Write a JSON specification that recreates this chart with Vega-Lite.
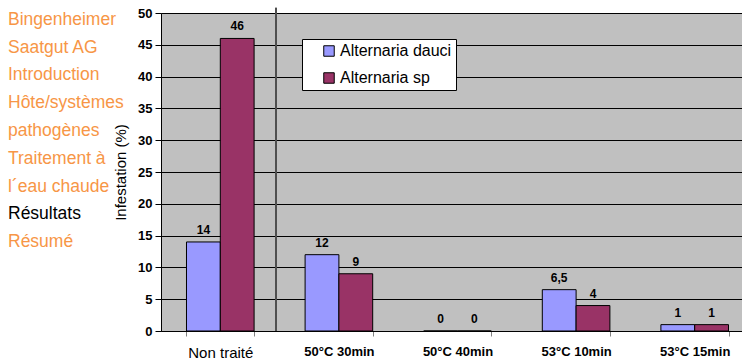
{
  "$schema": "https://vega.github.io/schema/vega-lite/v6.json",
  "padding": {"left": 8, "top": 6, "right": 0, "bottom": 0},
  "bounds": "flush",
  "spacing": 53,
  "background": "white",
  "resolve": {"scale": {"x": "independent", "y": "independent", "color": "independent"}, "axis": {"x": "independent", "y": "independent"}, "legend": {"color": "independent"}},
  "config": {
    "font": "Liberation Sans",
    "locale": {"number": {"decimal": ",", "thousands": ".", "grouping": [3], "currency": ["", " €"]}},
    "view": {"stroke": null}
  },
  "hconcat": [
    {
      "width": 100,
      "height": 236,
      "data": {"values": [
        {"line": "Bingenheimer", "item": "Bingenheimer Saatgut AG", "active": "no"},
        {"line": "Saatgut AG", "item": "Bingenheimer Saatgut AG", "active": "no"},
        {"line": "Introduction", "item": "Introduction", "active": "no"},
        {"line": "Hôte/systèmes", "item": "Hôte/systèmes pathogènes", "active": "no"},
        {"line": "pathogènes", "item": "Hôte/systèmes pathogènes", "active": "no"},
        {"line": "Traitement à", "item": "Traitement à l´eau chaude", "active": "no"},
        {"line": "l´eau chaude", "item": "Traitement à l´eau chaude", "active": "no"},
        {"line": "Résultats", "item": "Résultats", "active": "yes"},
        {"line": "Résumé", "item": "Résumé", "active": "no"}
      ]},
      "mark": {"type": "text", "align": "left", "baseline": "middle", "fontSize": 17.5},
      "encoding": {
        "y": {"field": "line", "type": "ordinal", "sort": null, "scale": {"type": "point", "padding": 0.25}, "axis": null},
        "x": {"datum": 0, "type": "quantitative", "scale": {"domain": [0, 1]}, "axis": null},
        "text": {"field": "line"},
        "color": {"field": "active", "type": "nominal", "scale": {"domain": ["no", "yes"], "range": ["#F79646", "#000000"]}, "legend": null}
      }
    },
    {
      "width": 593,
      "height": 318,
      "view": {"fill": "#C0C0C0", "stroke": "#808080"},
      "data": {"values": [
        {"category": "Non traité", "series": "Alternaria dauci", "value": 14},
        {"category": "Non traité", "series": "Alternaria sp", "value": 46},
        {"category": "50°C 30min", "series": "Alternaria dauci", "value": 12},
        {"category": "50°C 30min", "series": "Alternaria sp", "value": 9},
        {"category": "50°C 40min", "series": "Alternaria dauci", "value": 0},
        {"category": "50°C 40min", "series": "Alternaria sp", "value": 0},
        {"category": "53°C 10min", "series": "Alternaria dauci", "value": 6.5},
        {"category": "53°C 10min", "series": "Alternaria sp", "value": 4},
        {"category": "53°C 15min", "series": "Alternaria dauci", "value": 1},
        {"category": "53°C 15min", "series": "Alternaria sp", "value": 1}
      ]},
      "resolve": {"scale": {"x": "independent"}, "axis": {"x": "independent"}},
      "encoding": {
        "y": {
          "field": "value", "type": "quantitative",
          "scale": {"domain": [0, 50], "nice": false},
          "axis": {
            "title": "Infestation (%)", "titleFontSize": 15, "titleFontWeight": "normal", "titleColor": "#000000", "titlePadding": 9,
            "values": [0, 5, 10, 15, 20, 25, 30, 35, 40, 45, 50], "labelOverlap": false,
            "labelFontSize": 13, "labelFontWeight": "bold", "labelColor": "#000000", "labelPadding": 3,
            "tickSize": 6, "tickColor": "#000000", "domainColor": "#000000",
            "grid": true, "gridColor": "#000000", "gridOpacity": 1, "gridWidth": 1
          }
        }
      },
      "layer": [
        {
          "mark": {"type": "rule", "color": "#505050", "strokeWidth": 1},
          "encoding": {
            "x": {"datum": 0.97, "type": "quantitative", "scale": {"domain": [0, 5], "nice": false, "zero": false}, "axis": null},
            "y": {"datum": 50.8},
            "y2": {"datum": 0}
          }
        },
        {
          "resolve": {"scale": {"x": "shared"}},
          "encoding": {
            "x": {
              "field": "category", "type": "nominal", "sort": null,
              "scale": {"paddingInner": 0.43, "paddingOuter": 0.215},
              "axis": {
                "title": null, "labelAngle": 0, "tickBand": "extent",
                "domainColor": "#000000", "tickColor": "#808080", "tickSize": 5,
                "labelPadding": 9, "labelColor": "#000000", "labelBaseline": "top",
                "labelFontWeight": {"condition": {"test": "datum.value == 'Non traité'", "value": "normal"}, "value": "bold"},
                "labelFontSize": {"condition": {"test": "datum.value == 'Non traité'", "value": 15}, "value": 13}
              }
            },
            "xOffset": {"field": "series", "type": "nominal", "scale": {"paddingInner": 0, "paddingOuter": 0}}
          },
          "layer": [
            {
              "mark": {"type": "bar", "stroke": "#000000", "strokeWidth": 1},
              "encoding": {
                "color": {
                  "field": "series", "type": "nominal",
                  "scale": {"domain": ["Alternaria dauci", "Alternaria sp"], "range": ["#9999FF", "#993366"]},
                  "legend": {
                    "title": null, "orient": "none", "legendX": 141, "legendY": 26,
                    "fillColor": "#FFFFFF", "strokeColor": "#000000", "padding": 4,
                    "symbolType": "square", "symbolSize": 110, "symbolStrokeColor": "#000000", "symbolStrokeWidth": 1,
                    "symbolOffset": 15, "labelFontSize": 16, "labelColor": "#000000", "labelOffset": 3, "rowPadding": 11
                  }
                }
              }
            },
            {
              "mark": {"type": "text", "baseline": "alphabetic", "dy": -8, "fontSize": 12, "fontWeight": "bold", "color": "#000000"},
              "encoding": {
                "text": {"field": "value", "type": "quantitative", "format": "~g"}
              }
            }
          ]
        }
      ]
    }
  ]
}
